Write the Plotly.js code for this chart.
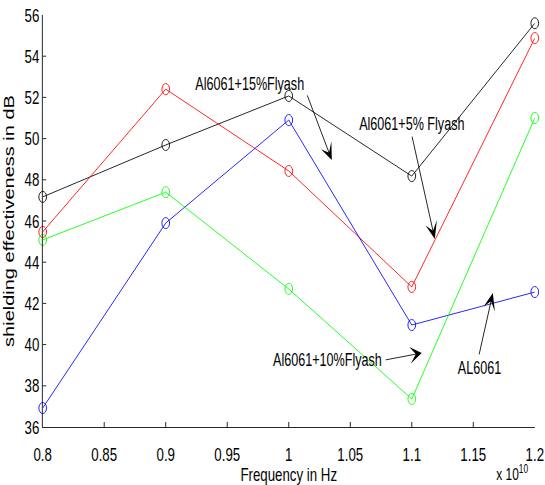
<!DOCTYPE html>
<html>
<head>
<meta charset="utf-8">
<script src="https://cdn.plot.ly/plotly-3.0.1.min.js"></script>
<style>
  html, body { margin: 0; padding: 0; overflow: hidden; background: #fff; }
  #plot { width: 779px; height: 485px; transform: scaleX(0.7); transform-origin: 0 0; }
</style>
</head>
<body>
<div id="plot"></div>
<script>
// Frequency (x 10^10 Hz)
const frequency = [0.8, 0.9, 1.0, 1.1, 1.2];
// Shielding effectiveness in dB
const al6061_15flyash = [47.17, 49.69, 52.07, 48.18, 55.6];
const al6061_5flyash  = [45.47, 52.4, 48.43, 42.8, 54.88];
const al6061          = [36.92, 45.9, 50.9, 40.95, 42.55];
const al6061_10flyash = [45.08, 47.4, 42.7, 37.36, 51.0];

const xTickVals = [0.8, 0.85, 0.9, 0.95, 1.0, 1.05, 1.1, 1.15, 1.2];
const xTickText = ['0.8', '0.85', '0.9', '0.95', '1', '1.05', '1.1', '1.15', '1.2'];
const yTickVals = [36, 38, 40, 42, 44, 46, 48, 50, 52, 54, 56];

const FONT = 'Arial, "Liberation Sans", sans-serif';

function series(name, y, color) {
  return {
    x: frequency, y: y, name: name, type: 'scatter', mode: 'lines+markers',
    line: { color: color, width: 1 },
    marker: { symbol: 'circle-open', size: 11, color: color, line: { width: 1, color: color } },
    cliponaxis: false
  };
}

const traces = [
  series('Al6061+15%Flyash', al6061_15flyash, '#000000'),
  series('Al6061+5% Flyash', al6061_5flyash, '#ff0000'),
  series('AL6061', al6061, '#0000ff'),
  series('Al6061+10%Flyash', al6061_10flyash, '#00ff00')
];

function label(text, x, y) {
  return { text: text, x: x, y: y, xref: 'x', yref: 'y', showarrow: false,
           font: { family: FONT, size: 18, color: '#000' } };
}
function arrow(x, y, ax, ay) {
  return { text: '', x: x, y: y, ax: ax, ay: ay, xref: 'x', yref: 'y', axref: 'x', ayref: 'y',
           showarrow: true, arrowhead: 3, arrowsize: 2.8, arrowwidth: 1, arrowcolor: '#000', standoff: 0, startstandoff: 0 };
}

const layout = {
  width: 779, height: 485,
  margin: { l: 61, r: 15, t: 15, b: 58 },
  paper_bgcolor: '#fff', plot_bgcolor: '#fff',
  showlegend: false,
  font: { family: FONT, size: 19, color: '#000' },
  xaxis: {
    range: [0.8, 1.2], tickvals: xTickVals, ticktext: xTickText,
    ticks: 'inside', ticklen: 5, tickcolor: '#000', tickwidth: 1,
    showline: true, linecolor: '#000', linewidth: 1, mirror: false,
    showgrid: false, zeroline: false, ticklabelstandoff: 10,
    tickfont: { family: FONT, size: 19 },
    title: { text: 'Frequency in Hz', font: { family: FONT, size: 19 }, standoff: 0 }
  },
  yaxis: {
    range: [36, 56], tickvals: yTickVals,
    ticks: 'inside', ticklen: 5, tickcolor: '#000', tickwidth: 1,
    showline: true, linecolor: '#000', linewidth: 1, mirror: false,
    showgrid: false, zeroline: false,
    tickfont: { family: FONT, size: 19 },
    title: { text: 'shielding effectiveness in dB', font: { family: FONT, size: 20 }, standoff: 8 }
  },
  annotations: [
    label('Al6061+15%Flyash', 0.9683, 52.65),
    arrow(1.035, 48.96, 1.0146, 52.17),
    label('Al6061+5% Flyash', 1.1, 50.71),
    arrow(1.1187, 45.13, 1.1, 50.17),
    label('Al6061+10%Flyash', 1.0317, 39.25),
    arrow(1.1081, 39.59, 1.078, 39.25),
    label('AL6061', 1.1553, 38.86),
    arrow(1.1659, 42.5, 1.1545, 39.45),
    { text: 'x 10<sup>10</sup>', xref: 'paper', yref: 'paper', x: 0.99, y: -0.112,
      xanchor: 'right', yanchor: 'middle', showarrow: false,
      font: { family: FONT, size: 17, color: '#000' } }
  ]
};

Plotly.newPlot('plot', traces, layout, { displayModeBar: false, staticPlot: true });
</script>
</body>
</html>
